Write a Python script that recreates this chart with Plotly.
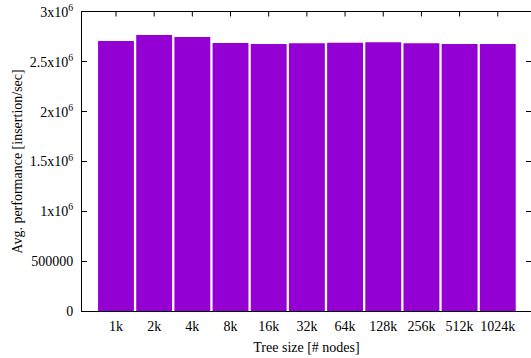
import plotly.graph_objects as go

categories = ["1k", "2k", "4k", "8k", "16k", "32k", "64k", "128k", "256k", "512k", "1024k"]
performance = [2709000, 2769000, 2749000, 2689000, 2679000, 2686000, 2692000, 2696000, 2686000, 2679000, 2679000]
ytick_vals = [0, 500000, 1000000, 1500000, 2000000, 2500000, 3000000]
ytick_text = ["0", "500000", "1x10<sup>6</sup>", "1.5x10<sup>6</sup>", "2x10<sup>6</sup>",
              "2.5x10<sup>6</sup>", "3x10<sup>6</sup>"]

font = dict(family="Liberation Serif, Times New Roman, serif", size=14, color="#000000")
x_positions = list(range(len(categories)))
x_range = [-0.89, 10.87]
y_range = [0, 3000000]

W, H = 531, 358
M = dict(l=82, r=0, t=12, b=47)
plot_h = H - M["t"] - M["b"]
top_tick_len = (y_range[1] - y_range[0]) * 4.5 / plot_h

fig = go.Figure()
fig.add_trace(go.Bar(
    x=x_positions,
    y=performance,
    marker=dict(color="#9400D3", line=dict(width=0)),
    width=0.94,
))

# mirrored tick marks along the top border, one per category
for xp in x_positions:
    fig.add_shape(
        type="line", xref="x", yref="y", layer="above",
        x0=xp, x1=xp, y0=y_range[1], y1=y_range[1] - top_tick_len,
        line=dict(color="#000000", width=1),
    )

fig.update_layout(
    template="none",
    width=W, height=H,
    margin=dict(**M, autoexpand=False),
    paper_bgcolor="white", plot_bgcolor="white",
    font=font,
    showlegend=False,
    xaxis=dict(
        tickmode="array",
        tickvals=x_positions,
        ticktext=categories,
        range=x_range,
        automargin=False,
        showline=True, linecolor="#000000", linewidth=1,
        mirror=True, ticks="",
        showgrid=False, zeroline=False,
        layer="below traces",
        tickfont=font,
        ticklabelstandoff=2,
        title=dict(text="Tree size [# nodes]", standoff=9, font=font),
    ),
    yaxis=dict(
        tickmode="array",
        tickvals=ytick_vals,
        ticktext=ytick_text,
        range=y_range,
        automargin=False,
        showline=True, linecolor="#000000", linewidth=1,
        mirror="ticks", ticks="inside", ticklen=5, tickcolor="#000000", tickwidth=1,
        showgrid=False, zeroline=False,
        layer="below traces",
        tickfont=font,
        ticklabelstandoff=5,
        title=dict(text="Avg. performance [insertion/sec]", standoff=3, font=font),
    ),
)

fig.write_html(
    "out.html",
    config={"displayModeBar": False},
    post_script="document.body.style.margin='0';document.body.style.overflow='hidden';",
)
